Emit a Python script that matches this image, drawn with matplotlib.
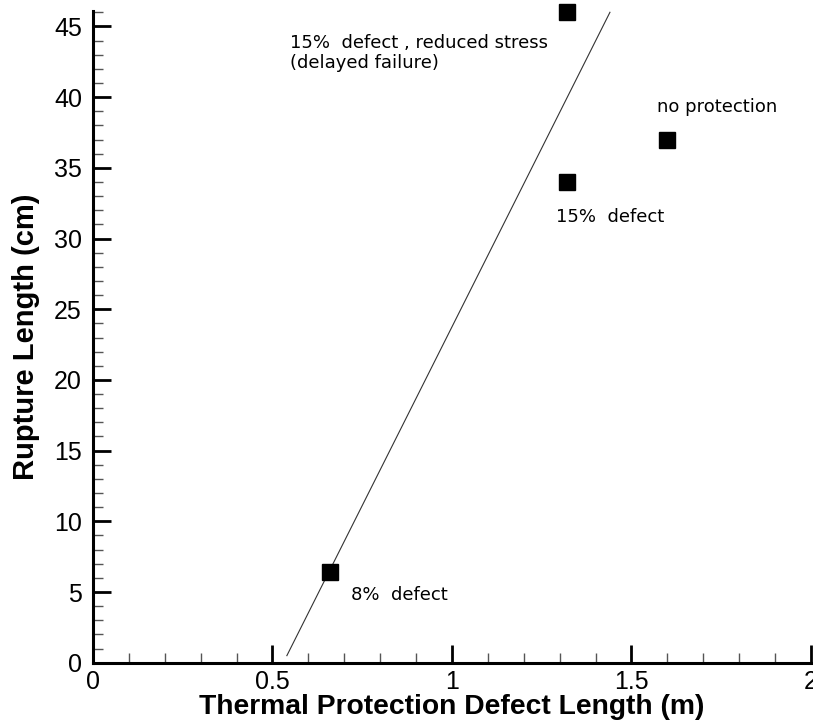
import matplotlib
matplotlib.use("Agg")
import matplotlib.pyplot as plt
from matplotlib.ticker import MultipleLocator

# data
defectLength = [0.66, 1.32, 1.32, 1.60]     # m
ruptureLength = [6.4, 46.0, 34.0, 37.0]     # cm
pointLabels = ["8%  defect", "15%  defect , reduced stress\n(delayed failure)",
               "15%  defect", "no protection"]

# straight fit line endpoints
fitX = [0.54, 1.44]
fitY = [0.5, 46.0]

plt.rcParams['font.family'] = ['Liberation Sans', 'DejaVu Sans']

fig = plt.figure(figsize=(8.13, 7.25), dpi=100)
ax = fig.add_axes([0.1144, 0.0859, 0.8831, 0.8991])

ax.plot(fitX, fitY, color="#333333", linewidth=0.8)
ax.plot(defectLength, ruptureLength, linestyle="none", marker="s",
        markersize=12, color="black", clip_on=False, zorder=5)

# annotations next to each point
noteFont = dict(fontsize=13, family="DejaVu Sans", ha="left", va="center")
ax.text(0.72, 4.8, pointLabels[0], **noteFont)
ax.text(0.55, 43.1, pointLabels[1], linespacing=1.15, **noteFont)
ax.text(1.29, 31.5, pointLabels[2], **noteFont)
ax.text(1.57, 39.3, pointLabels[3], **noteFont)

ax.set_xlim(0, 2)
ax.set_ylim(0, 46.1)
ax.xaxis.set_major_locator(MultipleLocator(0.5))
ax.xaxis.set_minor_locator(MultipleLocator(0.1))
ax.yaxis.set_major_locator(MultipleLocator(5))
ax.yaxis.set_minor_locator(MultipleLocator(1))
ax.set_xticks([0, 0.5, 1, 1.5, 2])
ax.set_xticklabels(["0", "0.5", "1", "1.5", "2"])

ax.spines["top"].set_visible(False)
ax.spines["right"].set_visible(False)
ax.spines["left"].set_linewidth(2.2)
ax.spines["bottom"].set_linewidth(2.2)

ax.tick_params(which="major", direction="in", length=13, width=2, labelsize=18)
ax.tick_params(axis="y", which="major", pad=8)
ax.tick_params(axis="x", which="major", pad=5)
ax.tick_params(which="minor", direction="in", length=7, width=1, color="#555555")

ax.set_xlabel("Thermal Protection Defect Length (m)", fontsize=20.3, fontweight="bold",
              labelpad=0)
ax.set_ylabel("Rupture Length (cm)", fontsize=21, fontweight="bold", labelpad=10)

fig.savefig("out.png", dpi=100)
